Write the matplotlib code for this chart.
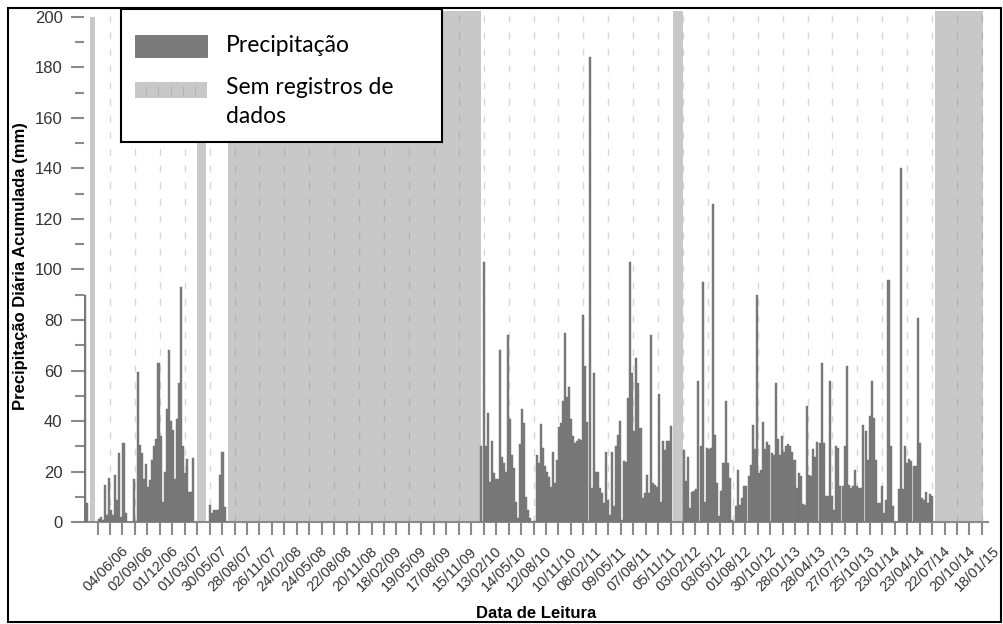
import matplotlib
matplotlib.use("Agg")
import matplotlib.pyplot as plt
import matplotlib.dates as mdates
import matplotlib.transforms as mtransforms
from matplotlib.patches import Rectangle
import pandas as pd

plt.rcParams["font.family"] = ["Liberation Sans", "DejaVu Sans"]

# readings (mm), one list per stretch of continuous record
seg_a1_dates = ["2006-03-07", "2006-03-14"]
seg_a1_mm = [90, 7.5]

seg_a2_mm = [0, 1.5, 2, 1, 14.8, 3, 17.4, 5, 3, 18.7, 9, 27.3, 2, 31.5, 3.5, 0, 0, 0,
             17, 0.5, 59.6, 30.6, 27.4, 17, 23, 14, 16.6, 24.6, 30, 33, 63, 34, 8, 20,
             45, 68, 40, 36.5, 17, 41, 55, 93, 30, 19.4, 25, 12, 12, 25.6, 0]

seg_a3_mm = [0.3, 0.3, 7, 3.8, 5, 5, 5, 18.7, 28, 6, 0.2]

seg_b_mm = [30.2, 103, 30, 43.4, 16, 32, 19.4, 17, 17, 68, 26, 23.4, 20, 74, 41, 26.6,
            21.4, 8, 1.6, 30.9, 45, 39.4, 10, 5, 1.6, 0, 0.5, 26.6, 23.4, 38.8, 29.3,
            22.3, 20, 18, 14, 28, 15.7, 24.7, 37.5, 39.4, 47.8, 75, 49.5, 53.4, 41, 34,
            31.3, 32, 32.8, 32.6, 82, 62, 39.8, 184, 13.5, 59, 20, 20, 13.5, 11.5, 7.5,
            28, 8.8, 3, 28, 6.5, 30, 34.6, 40, 1, 24.3, 24, 49, 103, 59, 36.3, 65, 55,
            37.2, 9.5, 11.5, 18.7, 11.5, 74, 15.4, 14.8, 14, 50.7, 8.2, 32.2, 28.6,
            32.2, 32.2, 38]

seg_c_mm = [28.5, 16.2, 26, 5.7, 11.9, 12.3, 13, 56, 30, 95, 8, 29.4, 29, 29.4, 126,
            34.7, 15.6, 2.6, 12.3, 23.5, 48, 23.5, 17.5, 1, 0, 6.3, 20.6, 7, 9.6, 14.5,
            14.5, 18.2, 22.8, 38.3, 28.8, 90, 19.5, 20.8, 39.6, 28.8, 31.7, 30.7, 27.4,
            26.8, 55, 33, 26.8, 34, 28, 30.3, 31, 30, 27.7, 24.8, 13.6, 19.5, 18.5, 7.4,
            7, 46, 18.9, 18.2, 28.8, 26, 31.7, 31.4, 63, 31.4, 10.6, 10.3, 56, 10.6, 4.7,
            30, 29.4, 14.5, 14.5, 30.3, 62, 14.9, 13.6, 14.5, 20.8, 14.2, 13.6, 13.6,
            38.3, 36, 24.8, 42, 56, 41.3, 24.8, 7.7, 7.7, 14.2, 3.7, 9, 96, 30, 6.3, 0,
            0, 13, 140, 13, 30.3, 23.5, 25, 24.1, 22.2, 22.4, 81, 31.4, 9.6, 9, 11.9,
            7.7, 11, 10.3]

segments = [
    ("2006-04-17", "2007-04-09", seg_a2_mm),
    ("2007-05-18", "2007-07-30", seg_a3_mm),
    ("2010-02-05", "2011-12-22", seg_b_mm),
    ("2012-02-06", "2014-07-23", seg_c_mm),
]

# periods without records
gap_start = ["2006-03-25", "2007-04-14", "2007-08-06", "2011-12-30", "2014-08-01"]
gap_end = ["2006-04-11", "2007-05-16", "2010-02-03", "2012-02-02", "2015-01-22"]
gap_top = [200, 202.4, 202.4, 202.4, 202.4]

tick_labels = ["04/06/06", "02/09/06", "01/12/06", "01/03/07", "30/05/07", "28/08/07",
               "26/11/07", "24/02/08", "24/05/08", "22/08/08", "20/11/08", "18/02/09",
               "19/05/09", "17/08/09", "15/11/09", "13/02/10", "14/05/10", "12/08/10",
               "10/11/10", "08/02/11", "09/05/11", "07/08/11", "05/11/11", "03/02/12",
               "03/05/12", "01/08/12", "30/10/12", "28/01/13", "28/04/13", "27/07/13",
               "25/10/13", "23/01/14", "23/04/14", "22/07/14", "20/10/14", "18/01/15"]

BAR = "#7b7b7b"
BAR_EDGE = "#707070"
GAP = "#c8c8c8"
AXC = "#8a8a8a"

W, H = 1004, 624


def px_box(l, t, r, b):
    return [l / W, 1 - b / H, (r - l) / W, (b - t) / H]


fig = plt.figure(figsize=(W / 100, H / 100), dpi=100)
ax = fig.add_axes(px_box(84, 10.6, 988, 522.3))

# no-data bands
g0 = mdates.date2num(pd.to_datetime(gap_start))
g1 = mdates.date2num(pd.to_datetime(gap_end))
ax.bar(g0, gap_top, width=g1 - g0, align="edge", color=GAP, linewidth=0, zorder=1)

# precipitation bars
d = mdates.date2num(pd.to_datetime(seg_a1_dates))
ax.bar(d, seg_a1_mm, width=7.3, color=BAR, edgecolor=BAR_EDGE, linewidth=0.3, zorder=3)
for start, end, vals in segments:
    d = mdates.date2num(pd.date_range(start, end, periods=len(vals)))
    ax.bar(d, vals, width=7.3, color=BAR, edgecolor=BAR_EDGE, linewidth=0.3, zorder=3)

ax.set_xlim(mdates.date2num(pd.Timestamp("2006-03-02")), mdates.date2num(pd.Timestamp("2015-02-09")))
ax.set_ylim(0, 202.4)

lab = mdates.date2num(pd.to_datetime(tick_labels, format="%d/%m/%y"))
ax.set_xticks(lab)
ax.set_xticks(lab - 45, minor=True)
ax.set_xticklabels(tick_labels, rotation=45, ha="right", va="top", rotation_mode="anchor")
ax.set_yticks(range(0, 201, 20))
ax.set_yticks(range(10, 200, 20), minor=True)

ax.tick_params(axis="x", which="both", length=9.4, width=1.5, color=AXC, pad=2,
               labelsize=10.5, labelcolor="#333333")
ax.tick_params(axis="y", which="major", length=9.4, width=1.5, color=AXC, pad=6,
               labelsize=12, labelcolor="#333333")
ax.tick_params(axis="y", which="minor", length=6.5, width=1.5, color=AXC)

offset = mtransforms.ScaledTranslation(11 / 100, -6 / 100, fig.dpi_scale_trans)
for lbl in ax.get_xticklabels():
    lbl.set_transform(lbl.get_transform() + offset)

for s in ["left", "top", "right"]:
    ax.spines[s].set_visible(False)
ax.spines["bottom"].set_color(AXC)
ax.spines["bottom"].set_linewidth(1.5)

ax.grid(axis="x", which="major", color=(0.5, 0.5, 0.5), alpha=0.3,
        linestyle=(0, (5, 7)), linewidth=1.0)
ax.set_axisbelow("line")

ax.set_ylabel("Precipitação Diária Acumulada (mm)", fontsize=12, fontweight="bold")
ax.yaxis.set_label_coords(-0.0615, 0.5)
ax.set_xlabel("Data de Leitura", fontsize=12, fontweight="bold")
ax.xaxis.set_label_coords(0.5006, -0.163)

# legend box
lg = fig.add_axes(px_box(121, 9, 442, 142))
lg.set_xlim(0, 321)
lg.set_ylim(133, 0)
lg.set_xticks([])
lg.set_yticks([])
for s in lg.spines.values():
    s.set_linewidth(1.5)
    s.set_color("black")
lg.add_patch(Rectangle((14, 26), 72, 22, fc=BAR, ec=BAR_EDGE, lw=0.6))
lg.add_patch(Rectangle((14, 72.7), 72, 16.6, fc=GAP, ec="none"))
for xx in [24.7, 37.3, 49.7, 62.3, 74]:
    lg.plot([xx, xx], [78, 85], color="#b0b0b0", lw=0.8)
lg.text(105, 42.7, "Precipitação", fontsize=16.5, family="Lato", va="baseline")
lg.text(105, 85.3, "Sem registros de", fontsize=16.5, family="Lato", va="baseline")
lg.text(105, 114.3, "dados", fontsize=16.5, family="Lato", va="baseline")

# outer frame
fig.add_artist(Rectangle((8.5 / W, 1 - 621.5 / H), 993 / W, 614 / H,
                         transform=fig.transFigure, fill=False, ec="black", lw=1.5))

fig.savefig("out.png", dpi=100)
